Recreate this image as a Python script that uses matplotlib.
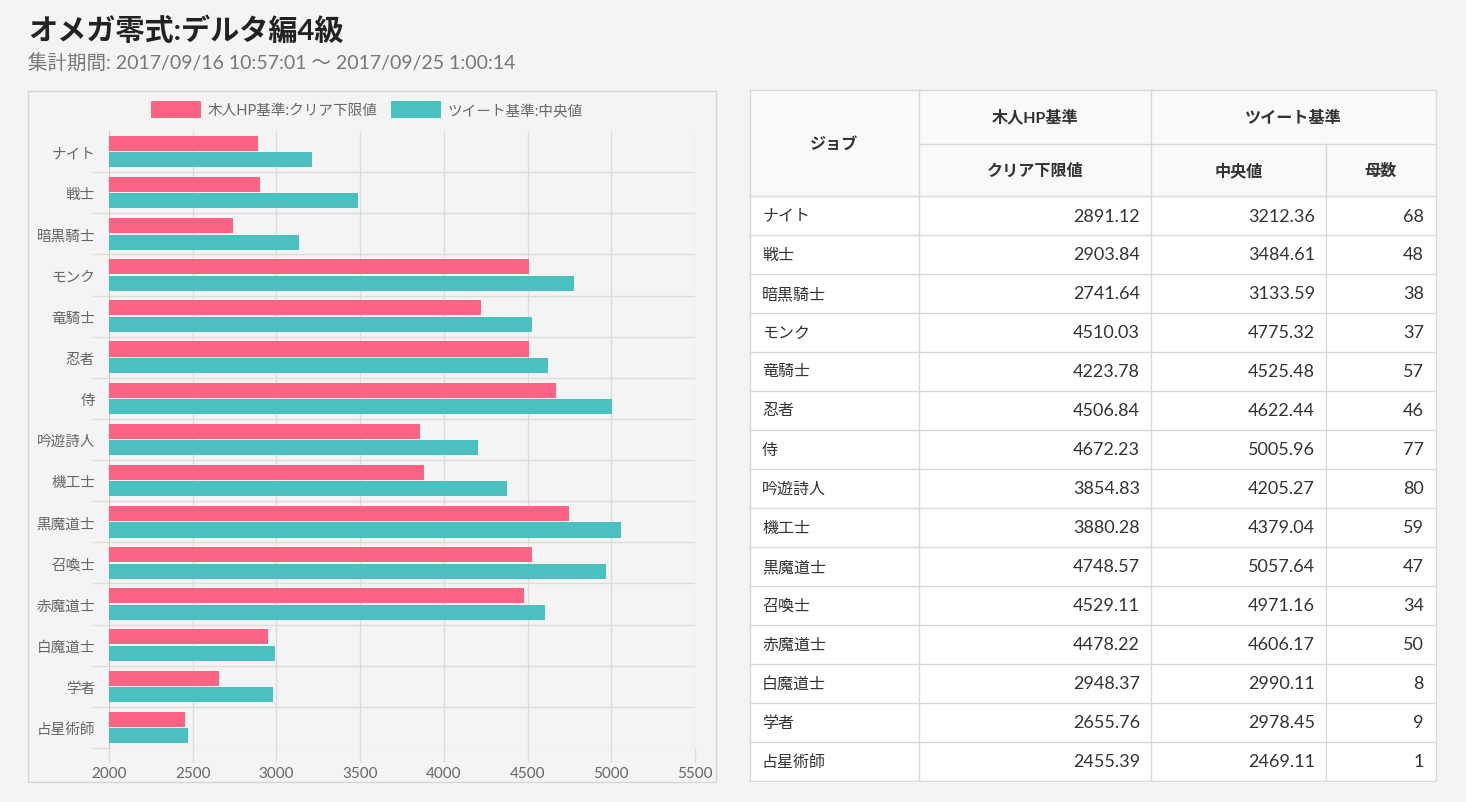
import matplotlib
matplotlib.use("Agg")
import matplotlib.pyplot as plt
from matplotlib.patches import Rectangle

plt.rcParams['font.family'] = ['Lato', 'Noto Sans CJK JP', 'DejaVu Sans']

title = "オメガ零式:デルタ編4級"
subtitle = "集計期間: 2017/09/16 10:57:01 〜 2017/09/25 1:00:14"
jobs = ["ナイト", "戦士", "暗黒騎士", "モンク", "竜騎士", "忍者", "侍", "吟遊詩人",
        "機工士", "黒魔道士", "召喚士", "赤魔道士", "白魔道士", "学者", "占星術師"]
clear_min = [2891.12, 2903.84, 2741.64, 4510.03, 4223.78, 4506.84, 4672.23, 3854.83,
             3880.28, 4748.57, 4529.11, 4478.22, 2948.37, 2655.76, 2455.39]
tweet_median = [3212.36, 3484.61, 3133.59, 4775.32, 4525.48, 4622.44, 5005.96, 4205.27,
                4379.04, 5057.64, 4971.16, 4606.17, 2990.11, 2978.45, 2469.11]
counts = [68, 48, 38, 37, 57, 46, 77, 80, 59, 47, 34, 50, 8, 9, 1]
series_labels = ["木人HP基準:クリア下限値", "ツイート基準:中央値"]
x_ticks = [2000, 2500, 3000, 3500, 4000, 4500, 5000, 5500]
header_top = ["ジョブ", "木人HP基準", "ツイート基準"]
header_sub = ["クリア下限値", "中央値", "母数"]

W, H = 1466, 803
BG = '#f4f4f4'
PINK = '#ff6384'
TEAL = '#4bc0c0'
GRID = '#dcdcdc'

fig = plt.figure(figsize=(W / 100, H / 100), dpi=100, facecolor=BG)


def px_axes(x0, y0, x1, y1, **kw):
    return fig.add_axes([x0 / W, 1 - y1 / H, (x1 - x0) / W, (y1 - y0) / H], **kw)


def fx(x):
    return x / W


def fy(y):
    return 1 - y / H


# Titles
fig.text(fx(28), fy(31), title, fontsize=21, fontweight='bold', color='#222222',
         va='center', ha='left')
fig.text(fx(28), fy(62), subtitle, fontsize=14, color='#777777', va='center', ha='left')

# Chart panel border
fig.patches.append(Rectangle((fx(28.5), fy(783)), (716 - 28.5) / W, (783 - 91.5) / H,
                             transform=fig.transFigure, facecolor=BG, edgecolor='#d6d6d6',
                             lw=1, zorder=-10))

# Legend
for i, (lx, col) in enumerate([(151, PINK), (391, TEAL)]):
    fig.patches.append(Rectangle((fx(lx), fy(119)), 50 / W, 17 / H, transform=fig.transFigure,
                                 facecolor=col, edgecolor='none', zorder=-5))
    fig.text(fx(lx + 57), fy(111), series_labels[i], fontsize=10.5, color='#666666',
             va='center', ha='left')

# Bar chart
ax = px_axes(109, 132, 695, 749, zorder=2)
ax.set_facecolor(BG)
idx = list(range(len(jobs)))
ax.barh([i - 0.2 for i in idx], clear_min, height=0.365, color=PINK, zorder=3)
ax.barh([i + 0.2 for i in idx], tweet_median, height=0.365, color=TEAL, zorder=3)
ax.set_xlim(2000, 5500)
ax.set_ylim(len(jobs) - 0.5, -0.5)
ax.set_xticks(x_ticks)
ax.set_xticklabels([str(t) for t in x_ticks])
ax.set_yticks(idx)
ax.set_yticklabels(jobs)
ax.set_yticks([i + 0.5 for i in idx], minor=True)
ax.grid(True, axis='x', color=GRID, lw=1, zorder=0)
ax.grid(True, axis='y', which='minor', color=GRID, lw=1, zorder=0)
ax.tick_params(axis='y', which='major', length=0, pad=10, labelsize=10.5, labelcolor='#666666')
ax.tick_params(axis='y', which='minor', length=12, color=GRID, width=1)
ax.tick_params(axis='x', length=10, color=GRID, width=1, pad=3, labelsize=11,
               labelcolor='#666666')
for s in ['top', 'right']:
    ax.spines[s].set_visible(False)
ax.spines['bottom'].set_visible(False)
ax.spines['left'].set_color('#c8c8c8')
ax.set_axisbelow(True)

# Table
tx0, tx1, ty0, ty1 = 750, 1436, 91, 782
cols = [750, 919, 1151, 1326, 1436]
h1, h2 = 145, 197
rh = (ty1 - h2) / len(jobs)
tax = px_axes(tx0 - 1, ty0 - 1, tx1 + 1, ty1 + 1)
tax.set_xlim(tx0 - 1, tx1 + 1)
tax.set_ylim(ty1 + 1, ty0 - 1)
tax.axis('off')
BORDER = '#d8d8d8'
tax.add_patch(Rectangle((tx0, ty0), tx1 - tx0, h2 - ty0, facecolor='#f8f9fa', edgecolor='none'))
tax.add_patch(Rectangle((tx0, h2), tx1 - tx0, ty1 - h2, facecolor='white', edgecolor='none'))
tax.plot([tx0, tx1], [ty0, ty0], color=BORDER, lw=1)
tax.plot([cols[1], tx1], [h1, h1], color=BORDER, lw=1)
for r in range(len(jobs) + 1):
    y = h2 + r * rh
    tax.plot([tx0, tx1], [y, y], color=BORDER, lw=1)
for c in [cols[0], cols[1], cols[2], cols[4]]:
    tax.plot([c, c], [ty0, ty1], color=BORDER, lw=1)
tax.plot([cols[3], cols[3]], [h1, ty1], color=BORDER, lw=1)

hdr_kw = dict(fontsize=11.6, fontweight='bold', color='#333333', va='center', ha='center')
tax.text((cols[0] + cols[1]) / 2, (ty0 + h2) / 2, header_top[0], **hdr_kw)
tax.text((cols[1] + cols[2]) / 2, (ty0 + h1) / 2, header_top[1], **hdr_kw)
tax.text((cols[2] + cols[4]) / 2, (ty0 + h1) / 2, header_top[2], **hdr_kw)
for k in range(3):
    tax.text((cols[k + 1] + cols[k + 2]) / 2, (h1 + h2) / 2, header_sub[k], **hdr_kw)

cell_kw = dict(color='#333333', va='center')
for r, job in enumerate(jobs):
    yc = h2 + (r + 0.5) * rh
    tax.text(cols[0] + 12, yc, job, ha='left', fontsize=11.5, **cell_kw)
    tax.text(cols[2] - 11, yc, f"{clear_min[r]:.2f}", ha='right', fontsize=13, **cell_kw)
    tax.text(cols[3] - 11, yc, f"{tweet_median[r]:.2f}", ha='right', fontsize=13, **cell_kw)
    tax.text(cols[4] - 12, yc, str(counts[r]), ha='right', fontsize=13, **cell_kw)

fig.savefig('out.png', dpi=100, facecolor=BG)
